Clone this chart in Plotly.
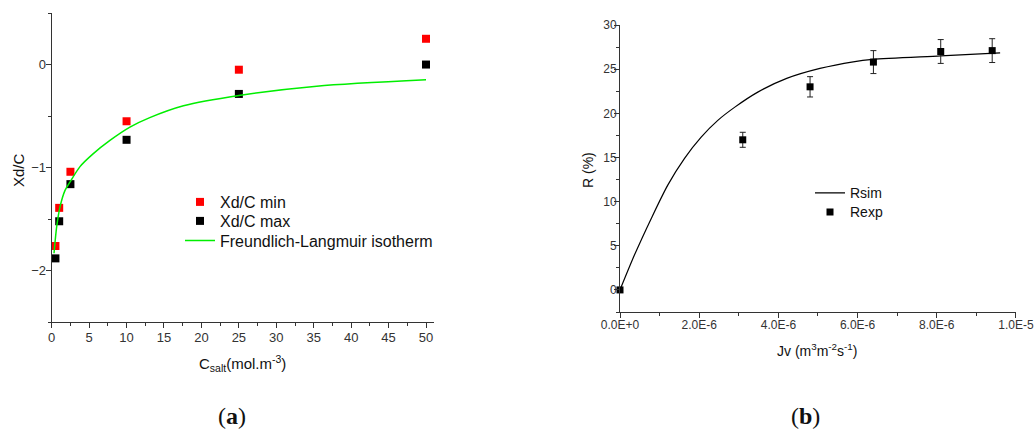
import plotly.graph_objects as go

# ---------------- Data (a) ----------------
c_salt = [0.5, 1, 2.5, 10, 25, 50]
xd_min = [-1.76, -1.39, -1.04, -0.55, -0.05, 0.25]
xd_max = [-1.88, -1.52, -1.16, -0.73, -0.285, 0.0]
fl_x = [0.31, 0.67, 1.11, 1.78, 2.44, 3.78, 5.56, 7.78, 10.45, 13.1, 17.6, 25, 35.4, 50]
fl_y = [-1.83, -1.57, -1.38, -1.22, -1.14, -0.99, -0.864, -0.736, -0.607, -0.515, -0.40, -0.30, -0.21, -0.148]

# ---------------- Data (b) ----------------
jv_exp = [0.0, 3.1e-6, 4.8e-6, 6.4e-6, 8.1e-6, 9.4e-6]
r_exp = [0.0, 17.0, 23.0, 25.8, 27.0, 27.1]
r_err = [0.0, 0.85, 1.15, 1.3, 1.35, 1.35]
jv_sim = [0.0, 0.37e-6, 0.79e-6, 1.21e-6, 1.63e-6, 2.05e-6, 2.47e-6, 2.9e-6, 3.48e-6,
          4.21e-6, 5.05e-6, 5.89e-6, 6.38e-6, 8.1e-6, 9.6e-6]
r_sim = [0.0, 4.0, 8.1, 11.9, 14.9, 17.3, 19.2, 20.7, 22.4,
         23.95, 25.08, 25.83, 26.1, 26.5, 26.85]

b_xticks = [0, 2e-6, 4e-6, 6e-6, 8e-6, 1e-5]
b_xticklabels = ["0.0E+0", "2.0E-6", "4.0E-6", "6.0E-6", "8.0E-6", "1.0E-5"]

W, H = 1034, 433
FONT = "Liberation Sans, Arial, sans-serif"
AX = "#333333"


def px(x):
    return x / W


def py(y):
    return 1 - y / H


fig = go.Figure()

fig.add_trace(go.Scatter(x=c_salt, y=xd_min, mode="markers", name="Xd/C min",
                         marker=dict(symbol="square", size=8, color="#ff0000"),
                         xaxis="x", yaxis="y", legend="legend", cliponaxis=False))
fig.add_trace(go.Scatter(x=c_salt, y=xd_max, mode="markers", name="Xd/C max",
                         marker=dict(symbol="square", size=8, color="#000000"),
                         xaxis="x", yaxis="y", legend="legend2", cliponaxis=False))
fig.add_trace(go.Scatter(x=fl_x, y=fl_y, mode="lines", name="Freundlich-Langmuir isotherm",
                         line=dict(color="#00ee00", width=1.5, shape="spline", smoothing=0.8),
                         xaxis="x", yaxis="y", legend="legend3"))

fig.add_trace(go.Scatter(x=jv_sim, y=r_sim, mode="lines", name="Rsim",
                         line=dict(color="#000000", width=1.2, shape="spline", smoothing=0.8),
                         xaxis="x2", yaxis="y2", legend="legend4"))
fig.add_trace(go.Scatter(x=jv_exp, y=r_exp, mode="markers", name="Rexp",
                         marker=dict(symbol="square", size=7, color="#000000"),
                         error_y=dict(type="data", array=r_err, visible=True,
                                      color="#222222", thickness=1, width=3),
                         xaxis="x2", yaxis="y2", legend="legend5", cliponaxis=False))


def axis(domain, rng, dtick, minor_dtick, **kw):
    d = dict(domain=domain, range=rng, showline=True, linecolor=AX, linewidth=1,
             showgrid=False, zeroline=False, automargin=False,
             ticks="outside", ticklen=5, tickwidth=1,
             tickcolor=AX, dtick=dtick, ticklabeloverflow="allow",
             minor=dict(dtick=minor_dtick, ticks="outside", ticklen=3, tickcolor=AX,
                        showgrid=False),
             tickfont=dict(family=FONT, size=13, color="#333333"))
    d.update(kw)
    return d


def leg(x_page, top_page, size):
    return dict(x=px(x_page), y=py(top_page), xanchor="left", yanchor="top",
                bgcolor="rgba(0,0,0,0)", borderwidth=0,
                font=dict(family=FONT, size=size, color="#111111"))


fig.update_layout(
    width=W, height=H, margin=dict(l=0, r=0, t=0, b=0, autoexpand=False),
    paper_bgcolor="white", plot_bgcolor="white",
    xaxis=axis([px(51.7), px(433.5)], [0, 51], 5, 2.5, anchor="y", tick0=0,
               ticklabelstandoff=-2),
    yaxis=axis([py(322.3), py(13)], [-2.5, 0.5], 1, 0.5, anchor="x", tick0=0,
               ticklabelstandoff=-3),
    xaxis2=axis([px(620), px(1016)], [0, 1.0001e-5], None, 1e-6, anchor="y2",
                tickmode="array", tickvals=b_xticks, ticktext=b_xticklabels,
                ticklabelstandoff=-3,
                tickfont=dict(family=FONT, size=12, color="#333333")),
    yaxis2=axis([py(312), py(25)], [-2.5, 30], 5, 2.5, anchor="x2", tick0=0,
                ticklabelstandoff=-5,
                tickfont=dict(family=FONT, size=12, color="#333333")),
    legend=leg(180, 185, 16),
    legend2=leg(180, 204, 16),
    legend3=leg(180, 223.5, 16),
    legend4=leg(810, 177.3, 14),
    legend5=leg(810, 196.3, 14),
    showlegend=True,
)


def ann(text, x, y, size, angle=0, family=FONT):
    return dict(text=text, x=px(x), y=py(y), xref="paper", yref="paper",
                xanchor="center", yanchor="middle", showarrow=False, textangle=angle,
                font=dict(family=family, size=size, color="#111111"))


fig.update_layout(annotations=[
    ann("Xd/C", 18, 170, 15, -90),
    ann("C<sub>salt</sub>(mol.m<sup>-3</sup>)", 242, 363, 15),
    ann("R (%)", 588, 170, 14, -90),
    ann("Jv (m<sup>3</sup>m<sup>-2</sup>s<sup>-1</sup>)", 817, 350, 14),
    ann("(<b>a</b>)", 232, 416, 24, family="Liberation Serif, serif"),
    ann("(<b>b</b>)", 805, 416, 24, family="Liberation Serif, serif"),
])

# remove the default 8px page margin so the 1034x433 figure fills the window exactly
fig.write_html("out.html",
               config={"displayModeBar": False},
               post_script="document.body.style.margin='0';document.body.style.overflow='hidden';")
